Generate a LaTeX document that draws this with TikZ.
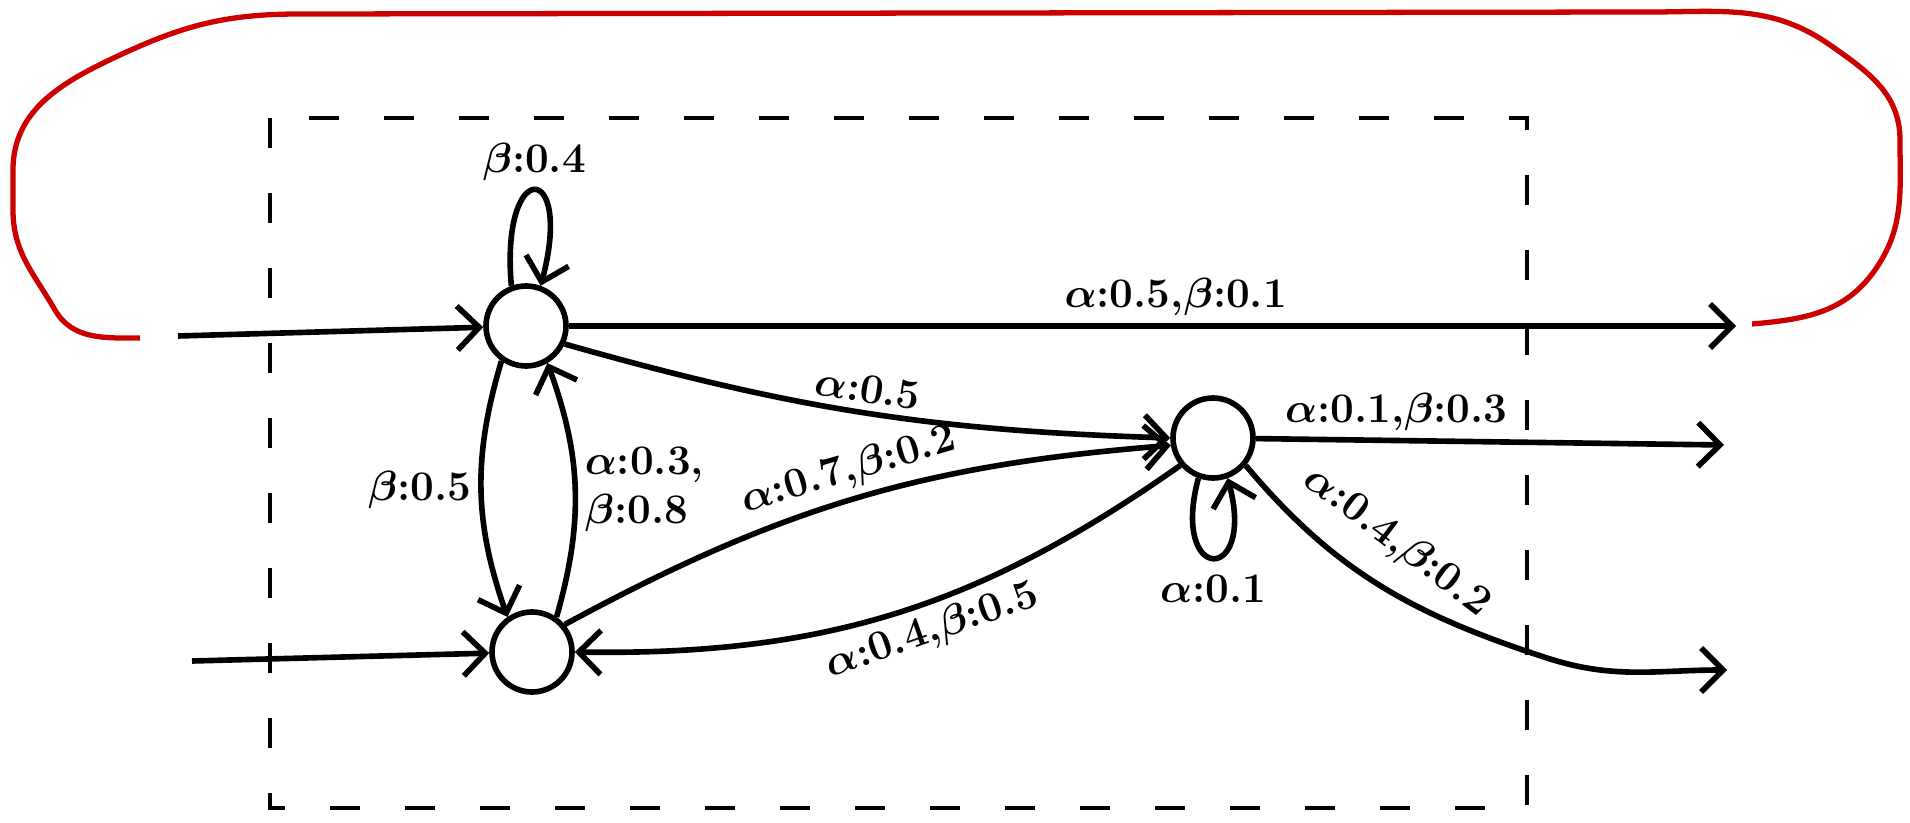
\documentclass[tikz,border=0pt]{standalone}
\usetikzlibrary{arrows.meta, positioning}

\begin{document}
\begin{tikzpicture}[
    >={Straight Barb[length=2.2mm, width=4.4mm]},
    state/.style={draw, circle, line width=1.6pt, minimum size=0.8cm,
                  inner sep=0pt},
    trans/.style={->, line width=1.6pt},
    lbl/.style={font=\large\bfseries\boldmath, inner sep=2pt},
    frame/.style={draw, line width=1.4pt, dash pattern=on 0.3cm off 0.45cm},
    feedback/.style={draw=red!80!black, line width=1.5pt}
  ]
  \useasboundingbox (0,0) rectangle (19.10,-8.23);

  % dashed frame round the system
  \draw[frame] (2.70,-1.18) rectangle (15.27,-8.08);

  % states
  \node[state] (A) at (5.26,-3.26) {};
  \node[state] (B) at (5.32,-6.52) {};
  \node[state] (C) at (12.13,-4.38) {};

  % free ends
  \coordinate (inA) at (1.78,-3.36);
  \coordinate (inB) at (1.92,-6.61);
  \coordinate (outA) at (17.36,-3.26);
  \coordinate (outC1) at (17.24,-4.45);
  \coordinate (outC2) at (17.27,-6.70);
  \coordinate (bendC2) at (15.47,-6.58);
  \coordinate (redA) at (17.52,-3.24);
  \coordinate (redB) at (1.40,-3.38);

  % inputs
  \draw[trans] (inA) -- (A);
  \draw[trans] (inB) -- (B);

  % transitions
  \draw[trans] (A.110) .. controls +(95:1.3) and +(75:1.3) .. (A.70)
    node[lbl, pos=0.5, above] {$\beta$:0.4};
  \draw[trans] (A) -- node[lbl, above, pos=0.52] {$\alpha$:0.5,$\beta$:0.1} (outA);
  \draw[trans] (A.-25) to[bend right=7]
    node[lbl, above, sloped] {$\alpha$:0.5} (C.west);
  \draw[trans] (A.-125) to[bend right=18]
    node[lbl, left] {$\beta$:0.5} (B.125);
  \draw[trans] (B.55) to[bend right=18]
    node[lbl, right, align=left] {$\alpha$:0.3,\\$\beta$:0.8} (A.-60);
  \draw[trans] (B.40) to[bend left=12]
    node[lbl, above, sloped, pos=0.5] {$\alpha$:0.7,$\beta$:0.2} (C.190);
  \draw[trans] (C.-140) to[bend left=18]
    node[lbl, below, sloped, pos=0.45] {$\alpha$:0.4,$\beta$:0.5} (B.east);
  \draw[trans] (C.250) .. controls +(255:1.1) and +(285:1.1) .. (C.290)
    node[lbl, pos=0.5, below=2pt] {$\alpha$:0.1};
  \draw[trans] (C) -- node[lbl, above, pos=0.3] {$\alpha$:0.1,$\beta$:0.3} (outC1);
  \draw[trans] (C.-40) to[out=-50, in=162] (bendC2)
    to[out=-18, in=180] (outC2);
  \node[lbl, rotate=-37] (lblC2) at (13.97,-5.42) {$\alpha$:0.4,$\beta$:0.2};

  % feedback from output back to input
  \draw[feedback] (redA) to[out=5,in=235] (18.75,-2.7)
    to[out=55,in=-90] (19.0,-1.4) to[out=90,in=-35] (18.3,-0.45)
    to[out=145,in=0] (16.5,-0.12) -- (3.0,-0.14)
    to[out=180,in=25] (1.2,-0.55) to[out=205,in=90] (0.13,-1.7)
    -- (0.13,-2.1) to[out=-90,in=120] (0.55,-3.1)
    to[out=-60,in=180] (redB);
\end{tikzpicture}
\end{document}
